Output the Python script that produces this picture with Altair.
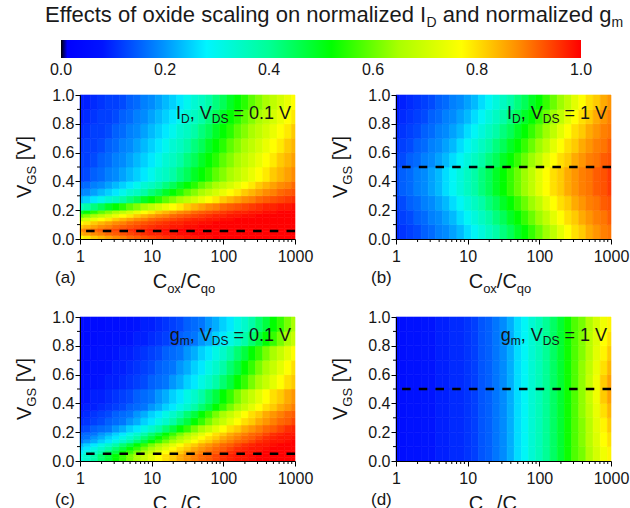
import altair as alt
import pandas as pd

FONT = "Liberation Sans"

# ---------------- data ----------------
# cell edges in log10(Cox/Cqo); cells are centred on 0.0, 0.1, ..., 3.0
LOGX_EDGES = [0.0, 0.05, 0.15, 0.25, 0.35, 0.45, 0.55, 0.65, 0.75, 0.85, 0.95, 1.05, 1.15,
              1.25, 1.35, 1.45, 1.55, 1.65, 1.75, 1.85, 1.95, 2.05, 2.15, 2.25, 2.35, 2.45,
              2.55, 2.65, 2.75, 2.85, 2.95, 3.0]
Y_EDGES_FINE = [0.0, 0.025, 0.05, 0.075, 0.1, 0.125, 0.15, 0.175, 0.2, 0.25, 0.3, 0.35, 0.4,
                0.5, 0.6, 0.7, 0.8, 0.9, 1.0]
Y_EDGES_COARSE = [0.0, 0.1, 0.2, 0.3, 0.4, 0.5, 0.6, 0.7, 0.8, 0.9, 1.0]

# (a) normalized I_D, V_DS = 0.1 V  (rows from top to bottom)
ID_VDS_01 = [
    [0.09, 0.09, 0.10, 0.11, 0.12, 0.12, 0.13, 0.15, 0.16, 0.18, 0.19, 0.21, 0.23, 0.25, 0.27, 0.30, 0.33, 0.35, 0.38, 0.42, 0.45, 0.49, 0.52, 0.55, 0.59, 0.62, 0.65, 0.68, 0.71, 0.74, 0.77],
    [0.09, 0.10, 0.11, 0.12, 0.12, 0.13, 0.15, 0.16, 0.18, 0.19, 0.21, 0.23, 0.25, 0.27, 0.30, 0.33, 0.35, 0.38, 0.42, 0.45, 0.49, 0.52, 0.55, 0.59, 0.62, 0.65, 0.68, 0.71, 0.74, 0.77, 0.79],
    [0.10, 0.11, 0.12, 0.12, 0.13, 0.15, 0.16, 0.18, 0.19, 0.21, 0.23, 0.25, 0.27, 0.30, 0.33, 0.35, 0.38, 0.42, 0.45, 0.49, 0.52, 0.55, 0.59, 0.62, 0.65, 0.68, 0.71, 0.74, 0.77, 0.79, 0.82],
    [0.11, 0.12, 0.12, 0.13, 0.15, 0.16, 0.18, 0.19, 0.21, 0.23, 0.25, 0.27, 0.30, 0.33, 0.35, 0.38, 0.42, 0.45, 0.49, 0.52, 0.55, 0.59, 0.62, 0.65, 0.68, 0.71, 0.74, 0.77, 0.79, 0.82, 0.84],
    [0.12, 0.12, 0.13, 0.15, 0.16, 0.18, 0.19, 0.21, 0.23, 0.25, 0.27, 0.30, 0.33, 0.35, 0.38, 0.42, 0.45, 0.49, 0.52, 0.55, 0.59, 0.62, 0.65, 0.68, 0.71, 0.74, 0.77, 0.79, 0.82, 0.84, 0.86],
    [0.12, 0.13, 0.15, 0.16, 0.18, 0.19, 0.21, 0.23, 0.25, 0.27, 0.30, 0.33, 0.35, 0.38, 0.42, 0.45, 0.49, 0.52, 0.55, 0.59, 0.62, 0.65, 0.68, 0.71, 0.74, 0.77, 0.79, 0.82, 0.84, 0.86, 0.88],
    [0.15, 0.16, 0.18, 0.19, 0.21, 0.23, 0.25, 0.27, 0.30, 0.33, 0.35, 0.38, 0.42, 0.45, 0.49, 0.52, 0.55, 0.59, 0.62, 0.65, 0.68, 0.71, 0.74, 0.77, 0.79, 0.82, 0.84, 0.86, 0.88, 0.89, 0.91],
    [0.18, 0.19, 0.21, 0.23, 0.25, 0.27, 0.30, 0.33, 0.35, 0.38, 0.42, 0.45, 0.49, 0.52, 0.55, 0.59, 0.62, 0.65, 0.68, 0.71, 0.74, 0.77, 0.79, 0.82, 0.84, 0.86, 0.88, 0.89, 0.91, 0.92, 0.93],
    [0.23, 0.25, 0.27, 0.30, 0.33, 0.35, 0.38, 0.42, 0.45, 0.49, 0.52, 0.55, 0.59, 0.62, 0.65, 0.68, 0.71, 0.74, 0.77, 0.79, 0.82, 0.84, 0.86, 0.88, 0.89, 0.91, 0.92, 0.93, 0.94, 0.95, 0.96],
    [0.35, 0.38, 0.42, 0.45, 0.49, 0.52, 0.55, 0.59, 0.62, 0.65, 0.68, 0.71, 0.74, 0.77, 0.79, 0.82, 0.84, 0.86, 0.88, 0.89, 0.91, 0.92, 0.93, 0.94, 0.95, 0.96, 0.97, 0.97, 0.98, 0.98, 0.99],
    [0.49, 0.52, 0.55, 0.59, 0.62, 0.65, 0.68, 0.71, 0.74, 0.77, 0.79, 0.82, 0.84, 0.86, 0.88, 0.89, 0.91, 0.92, 0.93, 0.94, 0.95, 0.96, 0.97, 0.97, 0.98, 0.98, 0.99, 0.99, 1.00, 1.00, 1.00],
    [0.59, 0.62, 0.65, 0.68, 0.71, 0.74, 0.77, 0.79, 0.82, 0.84, 0.86, 0.88, 0.89, 0.91, 0.92, 0.93, 0.94, 0.95, 0.96, 0.97, 0.97, 0.98, 0.98, 0.99, 0.99, 1.00, 1.00, 1.00, 1.00, 1.00, 1.00],
    [0.68, 0.71, 0.74, 0.77, 0.79, 0.82, 0.84, 0.86, 0.88, 0.89, 0.91, 0.92, 0.93, 0.94, 0.95, 0.96, 0.97, 0.97, 0.98, 0.98, 0.99, 0.99, 1.00, 1.00, 1.00, 1.00, 1.00, 1.00, 1.00, 1.00, 1.00],
    [0.77, 0.79, 0.82, 0.84, 0.86, 0.88, 0.89, 0.91, 0.92, 0.93, 0.94, 0.95, 0.96, 0.97, 0.97, 0.98, 0.98, 0.99, 0.99, 1.00, 1.00, 1.00, 1.00, 1.00, 1.00, 1.00, 1.00, 1.00, 1.00, 1.00, 1.00],
    [0.82, 0.84, 0.86, 0.88, 0.89, 0.91, 0.92, 0.93, 0.94, 0.95, 0.96, 0.97, 0.97, 0.98, 0.98, 0.99, 0.99, 1.00, 1.00, 1.00, 1.00, 1.00, 1.00, 1.00, 1.00, 1.00, 1.00, 1.00, 1.00, 1.00, 1.00],
    [0.88, 0.89, 0.91, 0.92, 0.93, 0.94, 0.95, 0.96, 0.97, 0.97, 0.98, 0.98, 0.99, 0.99, 1.00, 1.00, 1.00, 1.00, 1.00, 1.00, 1.00, 1.00, 1.00, 1.00, 1.00, 1.00, 1.00, 1.00, 1.00, 1.00, 1.00],
    [0.84, 0.86, 0.88, 0.89, 0.91, 0.92, 0.93, 0.94, 0.95, 0.96, 0.97, 0.97, 0.98, 0.98, 0.99, 0.99, 1.00, 1.00, 1.00, 1.00, 1.00, 1.00, 1.00, 1.00, 1.00, 1.00, 1.00, 1.00, 1.00, 1.00, 1.00],
    [0.77, 0.79, 0.82, 0.84, 0.86, 0.88, 0.89, 0.91, 0.92, 0.93, 0.94, 0.95, 0.96, 0.97, 0.97, 0.98, 0.98, 0.99, 0.99, 1.00, 1.00, 1.00, 1.00, 1.00, 1.00, 1.00, 1.00, 1.00, 1.00, 1.00, 1.00],
]

# (b) normalized I_D, V_DS = 1 V
ID_VDS_1 = [
    [0.08, 0.09, 0.10, 0.11, 0.12, 0.13, 0.15, 0.16, 0.18, 0.19, 0.21, 0.23, 0.26, 0.29, 0.32, 0.35, 0.38, 0.42, 0.45, 0.49, 0.52, 0.56, 0.60, 0.64, 0.68, 0.73, 0.77, 0.80, 0.82, 0.85, 0.87],
    [0.09, 0.10, 0.11, 0.12, 0.13, 0.15, 0.16, 0.18, 0.19, 0.21, 0.23, 0.26, 0.29, 0.32, 0.35, 0.38, 0.42, 0.45, 0.49, 0.52, 0.56, 0.60, 0.64, 0.68, 0.73, 0.77, 0.80, 0.82, 0.85, 0.87, 0.89],
    [0.10, 0.11, 0.12, 0.13, 0.15, 0.16, 0.18, 0.19, 0.21, 0.23, 0.26, 0.29, 0.32, 0.35, 0.38, 0.42, 0.45, 0.49, 0.52, 0.56, 0.60, 0.64, 0.68, 0.73, 0.77, 0.80, 0.82, 0.85, 0.87, 0.89, 0.90],
    [0.11, 0.12, 0.13, 0.15, 0.16, 0.18, 0.19, 0.21, 0.23, 0.26, 0.29, 0.32, 0.35, 0.38, 0.42, 0.45, 0.49, 0.52, 0.56, 0.60, 0.64, 0.68, 0.73, 0.77, 0.80, 0.82, 0.85, 0.87, 0.89, 0.90, 0.92],
    [0.12, 0.13, 0.15, 0.16, 0.18, 0.19, 0.21, 0.23, 0.26, 0.29, 0.32, 0.35, 0.38, 0.42, 0.45, 0.49, 0.52, 0.56, 0.60, 0.64, 0.68, 0.73, 0.77, 0.80, 0.82, 0.85, 0.87, 0.89, 0.90, 0.92, 0.93],
    [0.13, 0.15, 0.16, 0.18, 0.19, 0.21, 0.23, 0.26, 0.29, 0.32, 0.35, 0.38, 0.42, 0.45, 0.49, 0.52, 0.56, 0.60, 0.64, 0.68, 0.73, 0.77, 0.80, 0.82, 0.85, 0.87, 0.89, 0.90, 0.92, 0.93, 0.95],
    [0.13, 0.15, 0.16, 0.18, 0.19, 0.21, 0.23, 0.26, 0.29, 0.32, 0.35, 0.38, 0.42, 0.45, 0.49, 0.52, 0.56, 0.60, 0.64, 0.68, 0.73, 0.77, 0.80, 0.82, 0.85, 0.87, 0.89, 0.90, 0.92, 0.93, 0.95],
    [0.12, 0.13, 0.15, 0.16, 0.18, 0.19, 0.21, 0.23, 0.26, 0.29, 0.32, 0.35, 0.38, 0.42, 0.45, 0.49, 0.52, 0.56, 0.60, 0.64, 0.68, 0.73, 0.77, 0.80, 0.82, 0.85, 0.87, 0.89, 0.90, 0.92, 0.93],
    [0.11, 0.12, 0.13, 0.15, 0.16, 0.18, 0.19, 0.21, 0.23, 0.26, 0.29, 0.32, 0.35, 0.38, 0.42, 0.45, 0.49, 0.52, 0.56, 0.60, 0.64, 0.68, 0.73, 0.77, 0.80, 0.82, 0.85, 0.87, 0.89, 0.90, 0.92],
    [0.10, 0.11, 0.12, 0.13, 0.15, 0.16, 0.18, 0.19, 0.21, 0.23, 0.26, 0.29, 0.32, 0.35, 0.38, 0.42, 0.45, 0.49, 0.52, 0.56, 0.60, 0.64, 0.68, 0.73, 0.77, 0.80, 0.82, 0.85, 0.87, 0.89, 0.90],
]

# (c) normalized g_m, V_DS = 0.1 V
GM_VDS_01 = [
    [0.05, 0.05, 0.05, 0.05, 0.06, 0.06, 0.07, 0.07, 0.08, 0.09, 0.09, 0.10, 0.11, 0.12, 0.13, 0.15, 0.16, 0.17, 0.20, 0.22, 0.25, 0.27, 0.31, 0.34, 0.38, 0.43, 0.47, 0.52, 0.56, 0.61, 0.65],
    [0.05, 0.05, 0.05, 0.06, 0.06, 0.07, 0.07, 0.08, 0.09, 0.09, 0.10, 0.11, 0.12, 0.13, 0.15, 0.16, 0.17, 0.20, 0.22, 0.25, 0.27, 0.31, 0.34, 0.38, 0.43, 0.47, 0.52, 0.56, 0.61, 0.65, 0.69],
    [0.05, 0.06, 0.06, 0.07, 0.07, 0.08, 0.09, 0.09, 0.10, 0.11, 0.12, 0.13, 0.15, 0.16, 0.17, 0.20, 0.22, 0.25, 0.27, 0.31, 0.34, 0.38, 0.43, 0.47, 0.52, 0.56, 0.61, 0.65, 0.69, 0.73, 0.77],
    [0.06, 0.06, 0.07, 0.07, 0.08, 0.09, 0.09, 0.10, 0.11, 0.12, 0.13, 0.15, 0.16, 0.17, 0.20, 0.22, 0.25, 0.27, 0.31, 0.34, 0.38, 0.43, 0.47, 0.52, 0.56, 0.61, 0.65, 0.69, 0.73, 0.77, 0.80],
    [0.06, 0.07, 0.07, 0.08, 0.09, 0.09, 0.10, 0.11, 0.12, 0.13, 0.15, 0.16, 0.17, 0.20, 0.22, 0.25, 0.27, 0.31, 0.34, 0.38, 0.43, 0.47, 0.52, 0.56, 0.61, 0.65, 0.69, 0.73, 0.77, 0.80, 0.82],
    [0.07, 0.08, 0.09, 0.09, 0.10, 0.11, 0.12, 0.13, 0.15, 0.16, 0.17, 0.20, 0.22, 0.25, 0.27, 0.31, 0.34, 0.38, 0.43, 0.47, 0.52, 0.56, 0.61, 0.65, 0.69, 0.73, 0.77, 0.80, 0.82, 0.85, 0.87],
    [0.08, 0.09, 0.09, 0.10, 0.11, 0.12, 0.13, 0.15, 0.16, 0.17, 0.20, 0.22, 0.25, 0.27, 0.31, 0.34, 0.38, 0.43, 0.47, 0.52, 0.56, 0.61, 0.65, 0.69, 0.73, 0.77, 0.80, 0.82, 0.85, 0.87, 0.89],
    [0.09, 0.10, 0.11, 0.12, 0.13, 0.15, 0.16, 0.17, 0.20, 0.22, 0.25, 0.27, 0.31, 0.34, 0.38, 0.43, 0.47, 0.52, 0.56, 0.61, 0.65, 0.69, 0.73, 0.77, 0.80, 0.82, 0.85, 0.87, 0.89, 0.91, 0.92],
    [0.10, 0.11, 0.12, 0.13, 0.15, 0.16, 0.17, 0.20, 0.22, 0.25, 0.27, 0.31, 0.34, 0.38, 0.43, 0.47, 0.52, 0.56, 0.61, 0.65, 0.69, 0.73, 0.77, 0.80, 0.82, 0.85, 0.87, 0.89, 0.91, 0.92, 0.94],
    [0.12, 0.13, 0.15, 0.16, 0.17, 0.20, 0.22, 0.25, 0.27, 0.31, 0.34, 0.38, 0.43, 0.47, 0.52, 0.56, 0.61, 0.65, 0.69, 0.73, 0.77, 0.80, 0.82, 0.85, 0.87, 0.89, 0.91, 0.92, 0.94, 0.96, 0.97],
    [0.15, 0.16, 0.17, 0.20, 0.22, 0.25, 0.27, 0.31, 0.34, 0.38, 0.43, 0.47, 0.52, 0.56, 0.61, 0.65, 0.69, 0.73, 0.77, 0.80, 0.82, 0.85, 0.87, 0.89, 0.91, 0.92, 0.94, 0.96, 0.97, 0.98, 0.98],
    [0.16, 0.17, 0.20, 0.22, 0.25, 0.27, 0.31, 0.34, 0.38, 0.43, 0.47, 0.52, 0.56, 0.61, 0.65, 0.69, 0.73, 0.77, 0.80, 0.82, 0.85, 0.87, 0.89, 0.91, 0.92, 0.94, 0.96, 0.97, 0.98, 0.98, 0.99],
    [0.17, 0.20, 0.22, 0.25, 0.27, 0.31, 0.34, 0.38, 0.43, 0.47, 0.52, 0.56, 0.61, 0.65, 0.69, 0.73, 0.77, 0.80, 0.82, 0.85, 0.87, 0.89, 0.91, 0.92, 0.94, 0.96, 0.97, 0.98, 0.98, 0.99, 1.00],
    [0.22, 0.25, 0.27, 0.31, 0.34, 0.38, 0.43, 0.47, 0.52, 0.56, 0.61, 0.65, 0.69, 0.73, 0.77, 0.80, 0.82, 0.85, 0.87, 0.89, 0.91, 0.92, 0.94, 0.96, 0.97, 0.98, 0.98, 0.99, 1.00, 1.00, 1.00],
    [0.25, 0.27, 0.31, 0.34, 0.38, 0.43, 0.47, 0.52, 0.56, 0.61, 0.65, 0.69, 0.73, 0.77, 0.80, 0.82, 0.85, 0.87, 0.89, 0.91, 0.92, 0.94, 0.96, 0.97, 0.98, 0.98, 0.99, 1.00, 1.00, 1.00, 1.00],
    [0.27, 0.31, 0.34, 0.38, 0.43, 0.47, 0.52, 0.56, 0.61, 0.65, 0.69, 0.73, 0.77, 0.80, 0.82, 0.85, 0.87, 0.89, 0.91, 0.92, 0.94, 0.96, 0.97, 0.98, 0.98, 0.99, 1.00, 1.00, 1.00, 1.00, 1.00],
    [0.31, 0.34, 0.38, 0.43, 0.47, 0.52, 0.56, 0.61, 0.65, 0.69, 0.73, 0.77, 0.80, 0.82, 0.85, 0.87, 0.89, 0.91, 0.92, 0.94, 0.96, 0.97, 0.98, 0.98, 0.99, 1.00, 1.00, 1.00, 1.00, 1.00, 1.00],
    [0.31, 0.34, 0.38, 0.43, 0.47, 0.52, 0.56, 0.61, 0.65, 0.69, 0.73, 0.77, 0.80, 0.82, 0.85, 0.87, 0.89, 0.91, 0.92, 0.94, 0.96, 0.97, 0.98, 0.98, 0.99, 1.00, 1.00, 1.00, 1.00, 1.00, 1.00],
]

# (d) normalized g_m, V_DS = 1 V
GM_VDS_1 = [
    [0.06, 0.06, 0.07, 0.07, 0.08, 0.08, 0.09, 0.09, 0.10, 0.10, 0.11, 0.12, 0.14, 0.15, 0.17, 0.19, 0.22, 0.26, 0.29, 0.33, 0.36, 0.40, 0.44, 0.48, 0.53, 0.58, 0.61, 0.66, 0.71, 0.75, 0.78],
    [0.06, 0.06, 0.07, 0.07, 0.08, 0.08, 0.09, 0.09, 0.10, 0.10, 0.11, 0.12, 0.14, 0.15, 0.17, 0.19, 0.22, 0.26, 0.29, 0.33, 0.36, 0.40, 0.44, 0.48, 0.53, 0.58, 0.62, 0.67, 0.72, 0.77, 0.80],
    [0.06, 0.06, 0.07, 0.07, 0.08, 0.08, 0.09, 0.09, 0.10, 0.10, 0.11, 0.12, 0.14, 0.15, 0.17, 0.19, 0.22, 0.26, 0.29, 0.33, 0.36, 0.40, 0.44, 0.48, 0.53, 0.58, 0.62, 0.67, 0.73, 0.78, 0.82],
    [0.06, 0.06, 0.07, 0.07, 0.08, 0.08, 0.09, 0.09, 0.10, 0.10, 0.11, 0.12, 0.14, 0.15, 0.17, 0.19, 0.22, 0.26, 0.29, 0.33, 0.36, 0.40, 0.44, 0.48, 0.53, 0.58, 0.63, 0.68, 0.74, 0.80, 0.84],
    [0.06, 0.06, 0.07, 0.07, 0.08, 0.08, 0.09, 0.09, 0.10, 0.10, 0.11, 0.12, 0.14, 0.15, 0.17, 0.19, 0.22, 0.26, 0.29, 0.33, 0.36, 0.40, 0.44, 0.48, 0.53, 0.58, 0.63, 0.69, 0.75, 0.82, 0.86],
    [0.06, 0.06, 0.07, 0.07, 0.08, 0.08, 0.09, 0.09, 0.10, 0.10, 0.11, 0.12, 0.14, 0.15, 0.17, 0.19, 0.22, 0.26, 0.29, 0.33, 0.36, 0.40, 0.44, 0.48, 0.53, 0.58, 0.63, 0.69, 0.75, 0.82, 0.86],
    [0.06, 0.06, 0.07, 0.07, 0.08, 0.08, 0.09, 0.09, 0.10, 0.10, 0.11, 0.12, 0.14, 0.15, 0.17, 0.19, 0.22, 0.26, 0.29, 0.33, 0.36, 0.40, 0.44, 0.48, 0.53, 0.58, 0.63, 0.68, 0.74, 0.80, 0.84],
    [0.06, 0.06, 0.07, 0.07, 0.08, 0.08, 0.09, 0.09, 0.10, 0.10, 0.11, 0.12, 0.14, 0.15, 0.17, 0.19, 0.22, 0.26, 0.29, 0.33, 0.36, 0.40, 0.44, 0.48, 0.53, 0.58, 0.62, 0.67, 0.73, 0.78, 0.82],
    [0.06, 0.06, 0.07, 0.07, 0.08, 0.08, 0.09, 0.09, 0.10, 0.10, 0.11, 0.12, 0.14, 0.15, 0.17, 0.19, 0.22, 0.26, 0.29, 0.33, 0.36, 0.40, 0.44, 0.48, 0.53, 0.58, 0.62, 0.67, 0.72, 0.77, 0.80],
    [0.06, 0.06, 0.07, 0.07, 0.08, 0.08, 0.09, 0.09, 0.10, 0.10, 0.11, 0.12, 0.14, 0.15, 0.17, 0.19, 0.22, 0.26, 0.29, 0.33, 0.36, 0.40, 0.44, 0.48, 0.53, 0.58, 0.61, 0.66, 0.71, 0.75, 0.78],
]

RULE_Y = [0.055, 0.5, 0.05, 0.5]          # dashed reference lines of (a)..(d)
X_MAJOR = [1, 10, 100, 1000]
X_MINOR = [2, 3, 4, 5, 6, 7, 8, 9, 20, 30, 40, 50, 60, 70, 80, 90,
           200, 300, 400, 500, 600, 700, 800, 900]
Y_MAJOR = [0.0, 0.2, 0.4, 0.6, 0.8, 1.0]
Y_MINOR = [0.1, 0.3, 0.5, 0.7, 0.9]
CB_TICKS = [0.0, 0.2, 0.4, 0.6, 0.8, 1.0]
CB_LABELS = ["0.0", "0.2", "0.4", "0.6", "0.8", "1.0"]

# colour map (rainbow, as in the colour bar)
CMAP_STOPS = [0.0, 0.012, 0.08, 0.2, 0.28, 0.4, 0.52, 0.65, 0.77, 0.88, 1.0]
CMAP_COLORS = ["#000000", "#0000ff", "#0014ff", "#0096ff", "#00f5ff", "#00ff96",
               "#00ff00", "#aaff00", "#ffff00", "#ff8c00", "#ff0000"]

# ---------------- helpers ----------------
W, H = 215, 144
ONE = pd.DataFrame({"k": [0]})
ARIAL = {' ': 278, 'E': 667, 'f': 278, 'e': 556, 'c': 500, 't': 278, 's': 500, 'o': 556,
         'x': 500, 'i': 222, 'd': 556, 'a': 556, 'l': 222, 'n': 556, 'g': 556, 'r': 333,
         'm': 833, 'z': 500, 'I': 278, 'D': 722, ',': 278, 'V': 667, 'S': 667, '=': 584,
         '0': 556, '.': 278, '1': 556, 'C': 722, '/': 278, 'q': 556, 'G': 778, '[': 278,
         ']': 278}


def tw(s, size):
    return sum(ARIAL.get(ch, 556) for ch in s) / 1000.0 * size


def txt(t, x, y, size, angle=None, color="#151515"):
    kw = dict(text=t, font=FONT, fontSize=size, align="left", baseline="alphabetic", color=color)
    if angle is not None:
        kw["angle"] = angle
    return alt.Chart(ONE).mark_text(**kw).encode(x=alt.value(x), y=alt.value(y))


def hruns(runs, x0, y0, color="#151515"):
    out, x = [], x0
    for t, s, dy in runs:
        lead = len(t) - len(t.lstrip(" "))
        out.append(txt(t.lstrip(" "), x + tw(" " * lead, s), y0 + dy, s, color=color))
        x += tw(t, s)
    return out


def vruns(runs, x0, y0):
    out, y = [], y0
    for t, s, dy in runs:
        lead = len(t) - len(t.lstrip(" "))
        out.append(txt(t.lstrip(" "), x0 + dy, y - tw(" " * lead, s), s, angle=270))
        y -= tw(t, s)
    return out


def heat_df(rows_top_first, y_edges):
    rows = rows_top_first[::-1]
    recs = []
    for i, row in enumerate(rows):
        for j, v in enumerate(row):
            recs.append({"x0": 10 ** LOGX_EDGES[j], "x1": 10 ** LOGX_EDGES[j + 1],
                         "y0": y_edges[i], "y1": y_edges[i + 1], "v": v})
    return pd.DataFrame(recs)


XS = alt.Scale(type="log", domain=[1, 1000], nice=False)
YS = alt.Scale(domain=[0, 1], nice=False, zero=False)
CS = alt.Scale(domain=CMAP_STOPS, range=CMAP_COLORS, interpolate="rgb", clamp=True)

axis_common = dict(title=None, labelFont=FONT, labelFontSize=16, labelColor="#151515",
                   domainColor="black", domainWidth=1, tickColor="black", tickWidth=1,
                   tickSize=5, grid=False, labelFlush=False, labelOverlap=False, zindex=1)
X_AXIS = alt.Axis(values=X_MAJOR, format="d", labelPadding=4, **axis_common)
Y_AXIS = alt.Axis(values=Y_MAJOR, format=".1f", labelPadding=1, **axis_common)


def panel(rows, y_edges, rule_y, quantity, vds, letter, extra=()):
    independent_x = bool(extra)
    heat = alt.Chart(heat_df(rows, y_edges)).mark_rect(strokeWidth=0.6).encode(
        x=alt.X("x0:Q", scale=XS, axis=X_AXIS), x2="x1:Q",
        y=alt.Y("y0:Q", scale=YS, axis=Y_AXIS), y2="y1:Q",
        color=alt.Color("v:Q", scale=CS, legend=None),
        stroke=alt.Stroke("v:Q", scale=CS, legend=None),
    )
    rule = alt.Chart(pd.DataFrame({"ry": [rule_y]})).mark_rule(
        color="black", strokeWidth=2.5, strokeDash=[8.5, 8.2]
    ).encode(y=alt.Y("ry:Q", scale=YS, axis=Y_AXIS))
    xminor = alt.Chart(pd.DataFrame({"mx": X_MINOR})).mark_rule(color="black", strokeWidth=1).encode(
        x=alt.X("mx:Q", scale=XS, axis=None if independent_x else X_AXIS),
        y=alt.value(H), y2=alt.value(H + 3))
    yminor = alt.Chart(pd.DataFrame({"my": Y_MINOR})).mark_rule(color="black", strokeWidth=1).encode(
        y=alt.Y("my:Q", scale=YS, axis=Y_AXIS), x=alt.value(0), x2=alt.value(-3))

    ann = [(quantity[0], 18, 0), (quantity[1], 12, 4), (", V", 18, 0), ("DS", 12, 4),
           (" = %s V" % vds, 18, 0)]
    total = sum(tw(t, s) for t, s, _ in ann)
    texts = hruns(ann, 211 - total, 24)
    xt = [("C", 20, 0), ("ox", 13, 5), ("/C", 20, 0), ("qo", 13, 5)]
    xtot = sum(tw(t, s) for t, s, _ in xt)
    texts += hruns(xt, 104 - xtot / 2, H + 49)
    texts += vruns([("V", 20, 0), ("GS", 13, 5), (" [V]", 20, 0)], -49, 103)
    texts.append(txt("(%s)" % letter, -25, H + 44, 17))
    layers = [heat, rule, xminor, yminor] + list(extra) + texts
    ch = alt.layer(*layers).properties(width=W, height=H)
    if independent_x:
        ch = ch.resolve_scale(x="independent")
    return ch


# colour bar + main title (drawn above panel (a))
grad = alt.LinearGradient(
    gradient="linear", x1=0, x2=1, y1=0, y2=0,
    stops=[alt.GradientStop(color=c, offset=o) for o, c in zip(CMAP_STOPS, CMAP_COLORS)])
cbar = alt.Chart(ONE).mark_rect(fill=grad).encode(
    x=alt.value(-19), x2=alt.value(501), y=alt.value(-55), y2=alt.value(-37))
cb_lab = alt.Chart(pd.DataFrame({"t": CB_TICKS, "lab": CB_LABELS})).mark_text(
    font=FONT, fontSize=16, color="#151515", baseline="alphabetic", align="center"
).encode(x=alt.X("t:Q", scale=alt.Scale(domain=[0, 1], range=[-19, 501]), axis=None),
         y=alt.value(-20), text="lab:N")
title_runs = [("Effects of oxide scaling on normalized I", 22, 0), ("D", 14, 5),
              (" and normalized g", 22, 0), ("m", 14, 5)]
extra_a = [cbar, cb_lab] + hruns(title_runs, -35, -73, color="#1a1a1a")

pa = panel(ID_VDS_01, Y_EDGES_FINE, RULE_Y[0], ("I", "D"), "0.1", "a", extra=extra_a)
pb = panel(ID_VDS_1, Y_EDGES_COARSE, RULE_Y[1], ("I", "D"), "1", "b")
pc = panel(GM_VDS_01, Y_EDGES_FINE, RULE_Y[2], ("g", "m"), "0.1", "c")
pd_ = panel(GM_VDS_1, Y_EDGES_COARSE, RULE_Y[3], ("g", "m"), "1", "d")

chart = alt.concat(
    pa, pb, pc, pd_, columns=2, spacing={"row": 78, "column": 101}, bounds="flush"
).properties(
    autosize=alt.AutoSizeParams(type="none"),
    padding={"left": 80, "top": 95, "right": 550, "bottom": 413},
    background="white",
).configure_view(stroke=None)

chart.save("out.html", embed_options={"renderer": "svg", "actions": False})
